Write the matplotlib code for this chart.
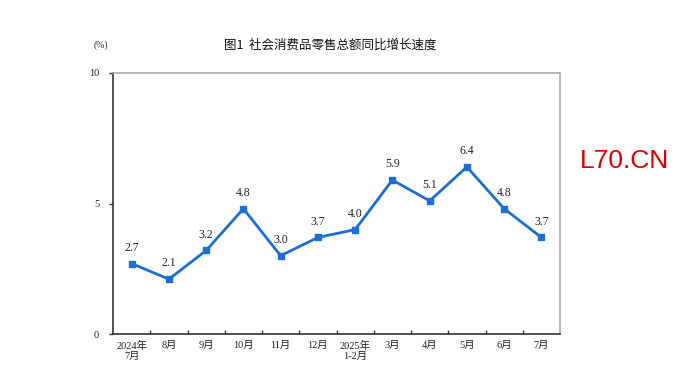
import numpy as np
import matplotlib.pyplot as plt

months = ['2024年\n7月', '8月', '9月', '10月', '11月', '12月', '2025年\n1-2月',
          '3月', '4月', '5月', '6月', '7月']
growth = [2.7, 2.1, 3.2, 4.8, 3.0, 3.7, 4.0, 5.9, 5.1, 6.4, 4.8, 3.7]
y_ticks = [0, 5, 10]

serif = ['Liberation Serif', 'Noto Sans CJK SC']
line_color = '#1a6fd0'

fig = plt.figure(figsize=(6.74, 3.84), dpi=100)
ax = fig.add_axes([0.1677, 0.1302, 0.6632, 0.6797])

x = np.arange(len(months))
ax.plot(x, growth, color=line_color, lw=2, marker='s', ms=4,
        markerfacecolor=line_color, markeredgecolor=line_color)

for xi, v in zip(x, growth):
    ax.annotate(f'{v:.1f}', (xi, v), xytext=(0, 7), textcoords='offset points',
                ha='center', va='bottom', fontsize=8.5, family=serif, color='#222222')

ax.set_xlim(-0.5, len(months) - 0.5)
ax.set_ylim(0, 10)

# boundary ticks on bottom, labels centred on categories
ax.set_xticks(np.arange(0.5, len(months) - 0.5, 1))
ax.set_xticklabels([])
ax.tick_params(axis='x', which='major', direction='in', length=3, width=1, color='#333333')
ax.set_xticks(x, minor=True)
ax.set_xticklabels(months, minor=True, fontsize=7.5, family=serif, color='#222222',
                   linespacing=1.15)
ax.tick_params(axis='x', which='minor', length=0, pad=5)

ax.set_yticks(y_ticks)
ax.set_yticklabels([str(t) for t in y_ticks], fontsize=7.5, family=serif, color='#222222')
ax.tick_params(axis='y', direction='out', length=3, width=1, color='#333333', pad=7)

ax.spines['left'].set_color('#333333')
ax.spines['bottom'].set_color('#333333')
ax.spines['left'].set_linewidth(1.2)
ax.spines['bottom'].set_linewidth(1.2)
ax.spines['top'].set_color('#aaaaaa')
ax.spines['right'].set_color('#aaaaaa')
ax.spines['top'].set_linewidth(1.2)
ax.spines['right'].set_linewidth(1.2)

fig.text(0.49, 0.882, '图1  社会消费品零售总额同比增长速度', ha='center', va='center',
         fontsize=9, family=['Noto Sans CJK SC', 'DejaVu Sans'], color='#111111')
fig.text(0.150, 0.882, '(%)', ha='center', va='center', fontsize=7,
         family=serif, color='#333333')

fig.text(0.9266, 0.58, 'L70.CN', ha='center', va='center', fontsize=19,
         family='Liberation Sans', color='#dd0000')

fig.savefig('out.png', dpi=100)
